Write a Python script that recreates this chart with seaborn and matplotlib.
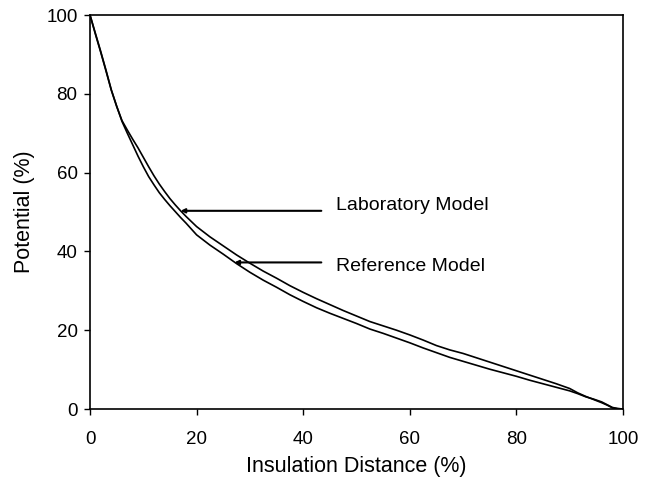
import matplotlib
matplotlib.use("Agg")
import matplotlib.pyplot as plt
import seaborn as sns
import pandas as pd

# Data
distance = [0, 1, 2, 3, 4, 5, 6, 7, 8, 9, 10, 11, 12, 13, 14, 15, 16, 17, 18,
            20, 22.5, 25, 27.5, 30, 32.5, 35, 37.5, 40, 42.5, 45, 47.5, 50,
            52.5, 55, 57.5, 60, 62.5, 65, 67.5, 70, 72.5, 75, 77.5, 80, 82.5,
            85, 87.5, 90, 91.5, 93, 94.5, 96, 97, 98, 99, 100]
laboratory = [100, 95.2, 90.6, 85.8, 80.9, 76.8, 73.2, 70.8, 68.5, 66.3, 63.9,
              61.5, 59.2, 57.1, 55.2, 53.4, 51.8, 50.3, 48.9,
              46.3, 43.7, 41.4, 39.1, 37.0, 35.0, 33.2, 31.3, 29.6, 28.0, 26.5,
              25.0, 23.6, 22.2, 21.1, 20.0, 18.8, 17.5, 16.1, 15.0, 14.1, 13.0,
              11.9, 10.8, 9.7, 8.6, 7.5, 6.4, 5.2, 4.1, 3.2, 2.4, 1.6, 1.0,
              0.3, 0.1, 0]
reference = [100, 95.4, 90.8, 86.0, 81.0, 76.9, 73.0, 70.0, 67.1, 64.2, 61.5,
             59.0, 56.9, 54.9, 53.2, 51.6, 50.1, 48.6, 47.2,
             44.2, 41.6, 39.3, 36.9, 34.7, 32.7, 30.9, 29.0, 27.3, 25.7, 24.3,
             23.0, 21.7, 20.3, 19.2, 18.0, 16.8, 15.5, 14.3, 13.1, 12.1, 11.1,
             10.1, 9.2, 8.3, 7.3, 6.4, 5.5, 4.6, 3.9, 3.1, 2.5, 1.8, 1.1,
             0.4, 0.1, 0]
x_ticks = [0, 20, 40, 60, 80, 100]
y_ticks = [0, 20, 40, 60, 80, 100]
series_names = ["Laboratory Model", "Reference Model"]

df = pd.DataFrame({
    "Insulation Distance (%)": distance * 2,
    "Potential (%)": laboratory + reference,
    "Model": [series_names[0]] * len(distance) + [series_names[1]] * len(distance),
})

sns.set_style("white")
plt.rcParams["font.family"] = ["Liberation Sans", "DejaVu Sans"]
plt.rcParams["text.color"] = "black"
plt.rcParams["axes.labelcolor"] = "black"

fig = plt.figure(figsize=(6.55, 4.8), dpi=100)
ax = fig.add_axes([90 / 655, 1 - 409 / 480, 533 / 655, 394 / 480])

sns.lineplot(data=df, x="Insulation Distance (%)", y="Potential (%)",
             hue="Model", palette=["black", "black"], linewidth=1.2,
             legend=False, ax=ax)

ax.set_xlim(0, 100)
ax.set_ylim(0, 100)
ax.set_xticks(x_ticks)
ax.set_yticks(y_ticks)
ax.tick_params(axis="both", direction="out", length=4, width=1,
               labelsize=13.5, colors="black", bottom=True, left=True)
ax.tick_params(axis="x", pad=11.5)
ax.tick_params(axis="y", pad=5)
ax.set_xlabel("Insulation Distance (%)", fontsize=15.5, labelpad=6)
ax.set_ylabel("Potential (%)", fontsize=15.5, labelpad=8)
for s in ax.spines.values():
    s.set_color("black")
    s.set_linewidth(1.2)

ax.annotate("", xy=(17, 50.3), xytext=(43.4, 50.3),
            arrowprops=dict(arrowstyle="-|>", color="black", lw=1.5,
                            mutation_scale=6, shrinkA=0, shrinkB=0))
ax.annotate("", xy=(27.1, 37.2), xytext=(43.4, 37.2),
            arrowprops=dict(arrowstyle="-|>", color="black", lw=1.5,
                            mutation_scale=6, shrinkA=0, shrinkB=0))
ax.text(46.1, 50.6, series_names[0], fontsize=14, ha="left", va="baseline",
        color="black")
ax.text(46.1, 35.1, series_names[1], fontsize=14, ha="left", va="baseline",
        color="black")

fig.savefig("out.png", dpi=100)
